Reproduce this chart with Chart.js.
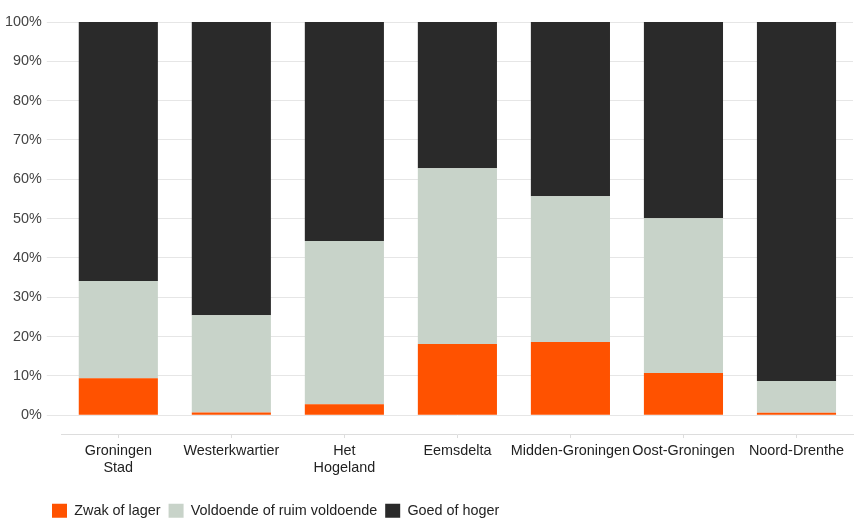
<!DOCTYPE html>
<html>
<head>
<meta charset="utf-8">
<script src="https://cdn.jsdelivr.net/npm/chart.js@4"></script>
<style>
  html, body { margin: 0; padding: 0; background: #fff; }
  #wrap { width: 860px; height: 518px; }
</style>
</head>
<body>
<div id="wrap"><canvas id="chart"></canvas></div>
<script>
const categories = [['Groningen', 'Stad'], 'Westerkwartier', ['Het', 'Hogeland'], 'Eemsdelta', 'Midden-Groningen', 'Oost-Groningen', 'Noord-Drenthe'];
const zwak = [9.4, 0.7, 2.8, 18.1, 18.6, 10.7, 0.6];
const voldoende = [24.7, 24.7, 41.5, 44.7, 37.1, 39.4, 8.1];
const goed = [65.9, 74.6, 55.7, 37.2, 44.3, 49.9, 91.3];

const font = { family: "'Liberation Sans', Arial, sans-serif", size: 14.4 };
const legendGap = 5;
const legendDrop = 15;
const legendIndent = 44;

// push the legend down a bit and indent it like the original
const legendShift = {
  id: 'legendShift',
  beforeLayout(chart) {
    const lg = chart.legend;
    if (lg && !lg._patched) {
      const fit = lg.fit;
      lg.fit = function () { fit.call(this); this.height += legendGap; };
      lg._patched = true;
    }
  },
  afterLayout(chart) {
    chart.legend.top += legendDrop;
    chart.legend.left += legendIndent;
  }
};

new Chart(document.getElementById('chart'), {
  type: 'bar',
  data: {
    labels: categories,
    datasets: [
      { label: 'Zwak of lager', data: zwak, backgroundColor: '#ff5200' },
      { label: 'Voldoende of ruim voldoende', data: voldoende, backgroundColor: '#c8d3c9' },
      { label: 'Goed of hoger', data: goed, backgroundColor: '#2a2a2a' }
    ]
  },
  plugins: [legendShift],
  options: {
    responsive: true,
    maintainAspectRatio: false,
    animation: false,
    datasets: { bar: { categoryPercentage: 0.7, barPercentage: 1 } },
    layout: { padding: { top: 22, right: 7, left: 0, bottom: 0 } },
    plugins: {
      tooltip: { enabled: false },
      legend: {
        position: 'bottom',
        align: 'start',
        labels: { font, color: '#222', boxWidth: 15, boxHeight: 14, padding: 8 }
      }
    },
    scales: {
      x: {
        stacked: true,
        grid: { drawOnChartArea: false, offset: false, tickLength: 4, color: '#ddd' },
        border: { display: true, color: '#ddd' },
        ticks: { font, color: '#222', maxRotation: 0, autoSkip: false, padding: 4 }
      },
      y: {
        stacked: true,
        min: -4.8,
        max: 100,
        grid: {
          color: ctx => (ctx.tick && ctx.tick.value < 0) ? 'rgba(0,0,0,0)' : '#e6e6e6',
          tickLength: 15
        },
        border: { display: false },
        ticks: {
          stepSize: 10,
          font,
          color: '#444',
          padding: 5,
          callback: v => v < 0 ? '' : v + '%'
        }
      }
    }
  }
});
</script>
</body>
</html>
